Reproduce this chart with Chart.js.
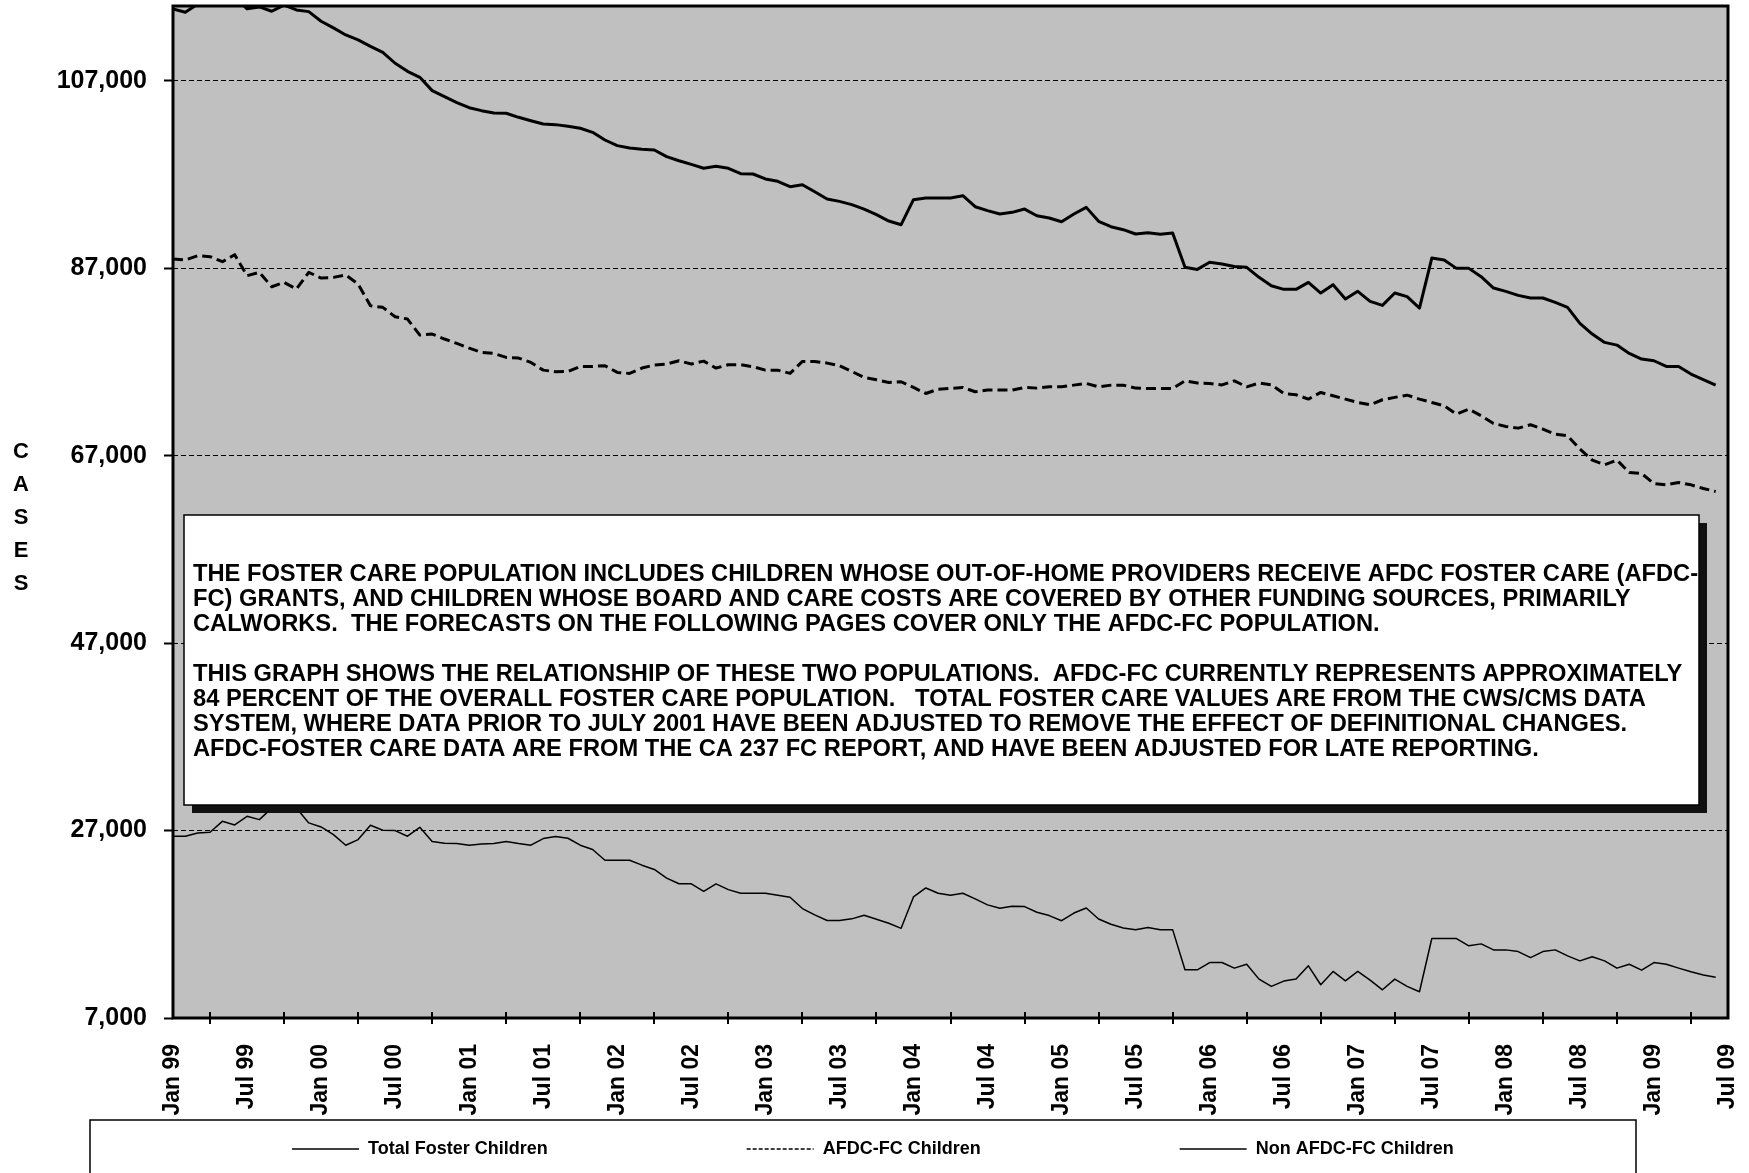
<!DOCTYPE html>
<html>
<head>
<meta charset="utf-8">
<script src="https://cdn.jsdelivr.net/npm/chart.js@4.4.0/dist/chart.umd.min.js"></script>
<style>
  html, body { margin: 0; padding: 0; background: #fff; }
  canvas { display: block; }
</style>
</head>
<body>
<canvas id="fosterChart" width="1749" height="1173"></canvas>
<script>
// month index 0 = Jan 99, one label every 6 months
const xTickLabels = ['Jan 99', 'Jul 99', 'Jan 00', 'Jul 00', 'Jan 01', 'Jul 01', 'Jan 02', 'Jul 02',
  'Jan 03', 'Jul 03', 'Jan 04', 'Jul 04', 'Jan 05', 'Jul 05', 'Jan 06', 'Jul 06', 'Jan 07', 'Jul 07',
  'Jan 08', 'Jul 08', 'Jan 09', 'Jul 09'];
const yTickValues = [7000, 27000, 47000, 67000, 87000, 107000];

const seriesNames = ['Total Foster Children', 'AFDC-FC Children', 'Non AFDC-FC Children'];

const totalCases = [
  114690, 114330, 115200, 115200, 115700, 116000, 114700, 114900, 114440, 115100,
  114580, 114400, 113370, 112660, 111910, 111380, 110700, 110060, 108890, 108030,
  107390, 105970, 105330, 104690, 104150, 103830, 103580, 103550, 103120, 102760,
  102410, 102340, 102160, 101950, 101520, 100700, 100100, 99850, 99710, 99630,
  98920, 98490, 98100, 97680, 97890, 97680, 97110, 97070, 96540, 96290,
  95720, 95930, 95180, 94400, 94150, 93800, 93330, 92730, 92050, 91660,
  94330, 94510, 94510, 94510, 94760, 93580, 93160, 92800, 92980, 93330,
  92620, 92370, 91980, 92800, 93510, 92020, 91450, 91130, 90670, 90810,
  90630, 90770, 87110, 86890, 87650, 87460, 87210, 87110, 86040, 85150,
  84760, 84760, 85500, 84370, 85260, 83730, 84550, 83480, 83050, 84370,
  83980, 82760, 88100, 87890, 87000, 87000, 86110, 84900, 84550, 84120,
  83840, 83840, 83370, 82840, 81130, 79990, 79100, 78810, 77920, 77320,
  77140, 76530, 76530, 75720, 75140, 74540
];
const afdcCases = [
  88000, 87890, 88350, 88250, 87710, 88460, 86220, 86570, 85040, 85510,
  84790, 86570, 85970, 86040, 86290, 85330, 83010, 82840, 81840, 81590,
  79880, 79990, 79460, 78990, 78490, 78030, 77920, 77500, 77430, 76960,
  76140, 75970, 76000, 76540, 76540, 76610, 75900, 75790, 76360, 76680,
  76790, 77140, 76790, 77100, 76360, 76720, 76720, 76500, 76140, 76140,
  75790, 77070, 77070, 76890, 76610, 76000, 75360, 75110, 74830, 74900,
  74290, 73650, 74110, 74180, 74290, 73830, 74010, 74010, 74010, 74290,
  74220, 74360, 74360, 74540, 74720, 74360, 74540, 74540, 74220, 74180,
  74180, 74180, 75000, 74760, 74720, 74560, 75000, 74360, 74760, 74580,
  73650, 73510, 73050, 73760, 73400, 73050, 72690, 72440, 72980, 73230,
  73470, 73050, 72690, 72340, 71450, 71980, 71270, 70450, 70130, 69950,
  70310, 69850, 69310, 69130, 67710, 66540, 66040, 66540, 65220, 65110,
  64040, 63900, 64150, 63900, 63510, 63190
];
const nonAfdcCases = [
  26400, 26400, 26750, 26820, 27990, 27600, 28520, 28170, 29400, 29600,
  29400, 27820, 27390, 26570, 25440, 26040, 27570, 27040, 27000, 26400,
  27350, 25830, 25650, 25620, 25440, 25580, 25620, 25830, 25620, 25440,
  26150, 26360, 26180, 25440, 24980, 23840, 23840, 23840, 23310, 22850,
  21930, 21330, 21320, 20520, 21310, 20700, 20310, 20310, 20310, 20100,
  19880, 18680, 18000, 17400, 17400, 17580, 17960, 17530, 17110, 16570,
  19920, 20880, 20310, 20100, 20310, 19710, 19070, 18710, 18920, 18890,
  18280, 17930, 17380, 18200, 18740, 17560, 17000, 16610, 16430, 16650,
  16430, 16430, 12140, 12140, 12920, 12920, 12320, 12740, 11150, 10370,
  10940, 11150, 12570, 10550, 11970, 10970, 11970, 11040, 10010, 11150,
  10370, 9800, 15480, 15480, 15480, 14700, 14910, 14270, 14270, 14090,
  13450, 14090, 14270, 13630, 13100, 13530, 13100, 12320, 12740, 12110,
  12920, 12740, 12320, 11930, 11580, 11360
];

const noteLines = [
  'THE FOSTER CARE POPULATION INCLUDES CHILDREN WHOSE OUT-OF-HOME PROVIDERS RECEIVE AFDC FOSTER CARE (AFDC-',
  'FC) GRANTS, AND CHILDREN WHOSE BOARD AND CARE COSTS ARE COVERED BY OTHER FUNDING SOURCES, PRIMARILY',
  'CALWORKS.  THE FORECASTS ON THE FOLLOWING PAGES COVER ONLY THE AFDC-FC POPULATION.',
  '',
  'THIS GRAPH SHOWS THE RELATIONSHIP OF THESE TWO POPULATIONS.  AFDC-FC CURRENTLY REPRESENTS APPROXIMATELY',
  '84 PERCENT OF THE OVERALL FOSTER CARE POPULATION.   TOTAL FOSTER CARE VALUES ARE FROM THE CWS/CMS DATA',
  'SYSTEM, WHERE DATA PRIOR TO JULY 2001 HAVE BEEN ADJUSTED TO REMOVE THE EFFECT OF DEFINITIONAL CHANGES.',
  'AFDC-FOSTER CARE DATA ARE FROM THE CA 237 FC REPORT, AND HAVE BEEN ADJUSTED FOR LATE REPORTING.'
];
const axisTitle = 'CASES';

const FONT = "'Liberation Sans', Arial, sans-serif";

function toPoints(values) {
  return values.map((v, i) => ({ x: i, y: v }));
}

// background, note box, frame, tick marks, legend and the stacked axis title
const decorations = {
  id: 'decorations',
  beforeDraw(chart) {
    const { ctx, chartArea: a } = chart;
    ctx.save();
    ctx.fillStyle = '#c0c0c0';
    ctx.fillRect(a.left, a.top, a.right - a.left, a.bottom - a.top);
    ctx.restore();
  },
  afterDatasetsDraw(chart) {
    const { ctx, chartArea: a } = chart;
    const xScale = chart.scales.x;
    ctx.save();

    // note box with drop shadow
    const bx = 184, by = 515, bw = 1515, bh = 290;
    ctx.fillStyle = '#111';
    ctx.fillRect(bx + 8, by + 8, bw, bh);
    ctx.fillStyle = '#fff';
    ctx.fillRect(bx, by, bw, bh);
    ctx.strokeStyle = '#000';
    ctx.lineWidth = 1.5;
    ctx.strokeRect(bx, by, bw, bh);

    ctx.save();
    ctx.beginPath();
    ctx.rect(bx, by, bw, bh);
    ctx.clip();
    ctx.fillStyle = '#000';
    ctx.font = 'bold 23.7px ' + FONT;
    ctx.textBaseline = 'middle';
    ctx.textAlign = 'left';
    noteLines.forEach((line, i) => {
      ctx.fillText(line, 193, 574 + i * 25.1);
    });
    ctx.restore();

    // plot frame
    ctx.strokeStyle = '#000';
    ctx.lineWidth = 3;
    ctx.strokeRect(a.left, a.top, a.right - a.left, a.bottom - a.top);

    // x tick marks sit between the labels
    ctx.lineWidth = 2;
    for (let m = 3; m < 126; m += 6) {
      const px = Math.round(xScale.getPixelForValue(m));
      ctx.beginPath();
      ctx.moveTo(px, a.bottom - 6);
      ctx.lineTo(px, a.bottom + 6);
      ctx.stroke();
    }
    ctx.restore();
  },
  afterDraw(chart) {
    const { ctx } = chart;
    ctx.save();

    // legend frame (runs off the bottom of the page)
    ctx.strokeStyle = '#000';
    ctx.lineWidth = 1.5;
    ctx.strokeRect(90, 1120, 1546, 120);

    ctx.font = 'bold 18px ' + FONT;
    ctx.textBaseline = 'middle';
    ctx.fillStyle = '#000';
    let lx = 292;
    const ly = 1149;
    chart.data.datasets.forEach(ds => {
      ctx.beginPath();
      ctx.setLineDash(ds.borderDash && ds.borderDash.length ? [4, 2] : []);
      ctx.lineWidth = 1.5;
      ctx.moveTo(lx, ly);
      ctx.lineTo(lx + 67, ly);
      ctx.stroke();
      ctx.setLineDash([]);
      ctx.fillText(ds.label, lx + 76, ly);
      lx += 76 + ctx.measureText(ds.label).width + 199;
    });

    // stacked y-axis title
    ctx.font = 'bold 22px ' + FONT;
    ctx.textAlign = 'center';
    axisTitle.split('').forEach((ch, i) => {
      ctx.fillText(ch, 21, 452 + i * 33);
    });
    ctx.restore();
  }
};

function initChart() {
  const ctx = document.getElementById('fosterChart').getContext('2d');
  new Chart(ctx, {
    type: 'line',
    data: {
      datasets: [{
        label: seriesNames[0],
        data: toPoints(totalCases),
        borderColor: '#000',
        borderWidth: 3,
        borderDash: []
      }, {
        label: seriesNames[1],
        data: toPoints(afdcCases),
        borderColor: '#000',
        borderWidth: 3,
        borderDash: [10, 5]
      }, {
        label: seriesNames[2],
        data: toPoints(nonAfdcCases),
        borderColor: '#000',
        borderWidth: 1.5,
        borderDash: []
      }]
    },
    options: {
      responsive: false,
      animation: false,
      devicePixelRatio: 1,
      layout: { padding: { top: 6, right: 21, bottom: 0, left: 0 } },
      elements: {
        point: { radius: 0 },
        line: { tension: 0, fill: false, borderJoinStyle: 'round' }
      },
      plugins: {
        legend: { display: false },
        tooltip: { enabled: false }
      },
      scales: {
        x: {
          type: 'linear',
          min: 0,
          max: 126,
          grid: { display: false },
          border: { display: false },
          ticks: {
            stepSize: 6,
            autoSkip: false,
            minRotation: 90,
            maxRotation: 90,
            padding: 18,
            color: '#000',
            font: { family: FONT, size: 23, weight: 'bold' },
            callback: v => xTickLabels[Math.round(v / 6)]
          },
          afterFit: s => { s.height = 155; s.paddingLeft = 0; s.paddingRight = 0; }
        },
        y: {
          min: 7000,
          max: 115000,
          afterBuildTicks: s => { s.ticks = yTickValues.map(v => ({ value: v })); },
          grid: { color: '#000', lineWidth: 1, tickLength: 9, tickColor: '#000', tickWidth: 2 },
          border: { display: false, dash: [5, 3] },
          ticks: {
            padding: 17,
            color: '#000',
            font: { family: FONT, size: 25, weight: 'bold' },
            callback: v => v.toLocaleString('en-US')
          },
          afterFit: s => { s.width = 173; s.paddingTop = 0; s.paddingBottom = 0; }
        }
      }
    },
    plugins: [decorations]
  });
}

document.addEventListener('DOMContentLoaded', initChart);
</script>
</body>
</html>
